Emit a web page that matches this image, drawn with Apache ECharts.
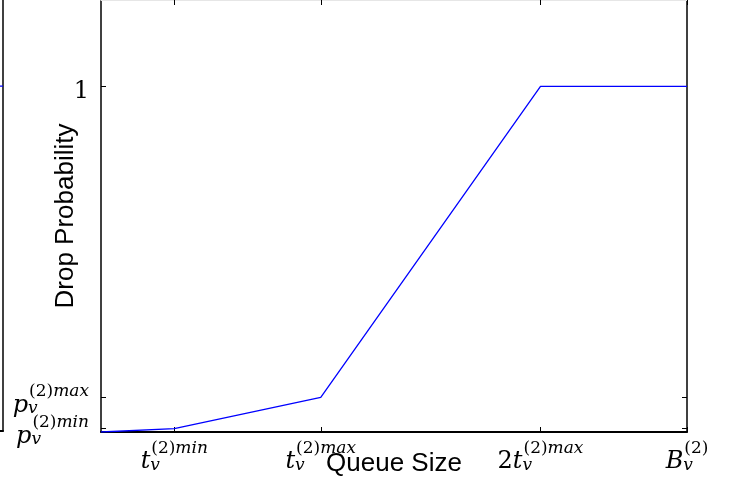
<!DOCTYPE html>
<html><head><meta charset="utf-8">
<script src="https://cdn.jsdelivr.net/npm/echarts@6/dist/echarts.min.js"></script>
<style>html,body{margin:0;padding:0;background:#fff}#c{width:741px;height:493px}</style>
</head><body><div id="c"></div>
<script>
const queueSize = [0, 10, 30, 60, 80];
const dropProb = [0, 0.01, 0.1, 1, 1];
const xTickValues = [10, 30, 60, 80];
const xTickLabels = ['{i|t}{v|v}{u|(2)}{s|min}', '{i|t}{v|v}{u|(2)}{s|max}', '{r|2}{i|t}{v|v}{u|(2)}{s|max}', '{i|B}{v|v}{u|(2)}'];
const yTickValues = [0.01, 0.1, 1];
const yTickLabels = ['{i|p}{v|v}{u|(2)}{s|min}', '{i|p}{v|v}{u|(2)}{s|max}', '{r|1}'];
const neighborX = [60, 80];
const neighborY = [1, 1];

// labels split over coincident left axes so that close ticks never hide each other
const yLabelSetA = [yTickValues[2]];
const yLabelSetB = [yTickValues[0], yTickValues[1]];

const F = 'DejaVu Serif';
const rich = {
  i: {fontFamily: F, fontStyle: 'italic', fontSize: 24, lineHeight: 34, verticalAlign: 'bottom', align: 'left', color: '#000'},
  r: {fontFamily: F, fontSize: 24, lineHeight: 34, verticalAlign: 'bottom', align: 'left', color: '#000'},
  v: {fontFamily: F, fontStyle: 'italic', fontSize: 17, lineHeight: 24, verticalAlign: 'bottom', align: 'left', width: 1, color: '#000'},
  u: {fontFamily: F, fontSize: 17, lineHeight: 20, verticalAlign: 'top', align: 'left', color: '#000'},
  s: {fontFamily: F, fontStyle: 'italic', fontSize: 17, lineHeight: 20, verticalAlign: 'top', align: 'left', color: '#000'}
};
const blk = '#000';
const yFmt = v => yTickLabels[yTickValues.indexOf(v)];
const chart = echarts.init(document.getElementById('c'), null, {renderer: 'canvas'});
chart.setOption({
  animation: false,
  backgroundColor: '#fff',
  grid: [
    {left: 101, right: 54, top: 0, bottom: 61, containLabel: false, outerBoundsMode: 'none'},
    {left: -300, right: 738, top: 0, bottom: 62, containLabel: false, outerBoundsMode: 'none'}
  ],
  xAxis: [
    {gridIndex: 0, type: 'value', min: 0, max: 80, position: 'bottom',
     axisLine: {show: true, onZero: false, lineStyle: {color: blk, width: 2}},
     axisTick: {show: true, inside: true, length: 5, customValues: xTickValues, lineStyle: {color: blk, width: 1}},
     axisLabel: {show: true, customValues: xTickValues, margin: 8, hideOverlap: false, showMinLabel: true, showMaxLabel: true,
       formatter: v => xTickLabels[xTickValues.indexOf(v)], rich: rich},
     splitLine: {show: false},
     name: 'Queue Size', nameLocation: 'middle', nameGap: 19, nameMoveOverlap: false,
     nameTextStyle: {fontFamily: 'Liberation Sans', fontSize: 26, color: blk}},
    {gridIndex: 0, type: 'value', min: 0, max: 80, position: 'top',
     axisLine: {show: true, onZero: false, lineStyle: {color: '#e6e6e6', width: 1}},
     axisTick: {show: true, inside: true, length: 5, customValues: xTickValues, lineStyle: {color: blk, width: 1}},
     axisLabel: {show: false}, splitLine: {show: false}},
    {gridIndex: 1, type: 'value', min: 0, max: 80, position: 'bottom',
     axisLine: {show: true, onZero: false, lineStyle: {color: blk, width: 2}},
     axisTick: {show: false}, axisLabel: {show: false}, splitLine: {show: false}}
  ],
  yAxis: [
    {gridIndex: 0, type: 'value', min: 0, max: 1.25, position: 'left',
     axisLine: {show: true, onZero: false, lineStyle: {color: blk, width: 1.5}},
     axisTick: {show: true, inside: true, length: 5, customValues: yTickValues, lineStyle: {color: blk, width: 1}},
     axisLabel: {show: true, customValues: yLabelSetA, margin: 12, hideOverlap: false, showMinLabel: true, showMaxLabel: true,
       formatter: yFmt, rich: rich},
     splitLine: {show: false},
     name: 'Drop Probability', nameLocation: 'middle', nameGap: 22, nameMoveOverlap: false,
     nameTextStyle: {fontFamily: 'Liberation Sans', fontSize: 26, color: blk}},
    {gridIndex: 0, type: 'value', min: 0, max: 1.25, position: 'right',
     axisLine: {show: true, onZero: false, lineStyle: {color: blk, width: 1.5}},
     axisTick: {show: true, inside: true, length: 5, customValues: yTickValues, lineStyle: {color: blk, width: 1}},
     axisLabel: {show: false}, splitLine: {show: false}},
    {gridIndex: 1, type: 'value', min: 0, max: 1.25, position: 'right',
     axisLine: {show: true, onZero: false, lineStyle: {color: blk, width: 1.5}},
     axisTick: {show: false}, axisLabel: {show: false}, splitLine: {show: false}},
    {gridIndex: 0, type: 'value', min: 0, max: 1.25, position: 'left', offset: 0,
     axisLine: {show: false}, axisTick: {show: false}, splitLine: {show: false},
     axisLabel: {show: true, customValues: [yLabelSetB[0]], margin: 12, padding: [6, 0, 0, 0], hideOverlap: false,
       showMinLabel: true, showMaxLabel: true, formatter: yFmt, rich: rich}},
    {gridIndex: 0, type: 'value', min: 0, max: 1.25, position: 'left', offset: 0,
     axisLine: {show: false}, axisTick: {show: false}, splitLine: {show: false},
     axisLabel: {show: true, customValues: [yLabelSetB[1]], margin: 12, padding: [6, 0, 0, 0], hideOverlap: false,
       showMinLabel: true, showMaxLabel: true, formatter: yFmt, rich: rich}}
  ],
  series: [
    {type: 'line', xAxisIndex: 0, yAxisIndex: 0, symbol: 'none',
     data: queueSize.map((x, k) => [x, dropProb[k]]),
     lineStyle: {color: '#0000ff', width: 1.3}, z: 1},
    {type: 'line', xAxisIndex: 2, yAxisIndex: 2, symbol: 'none',
     data: neighborX.map((x, k) => [x, neighborY[k]]),
     lineStyle: {color: '#0000ff', width: 1.3}, z: 1}
  ]
});
</script></body></html>
